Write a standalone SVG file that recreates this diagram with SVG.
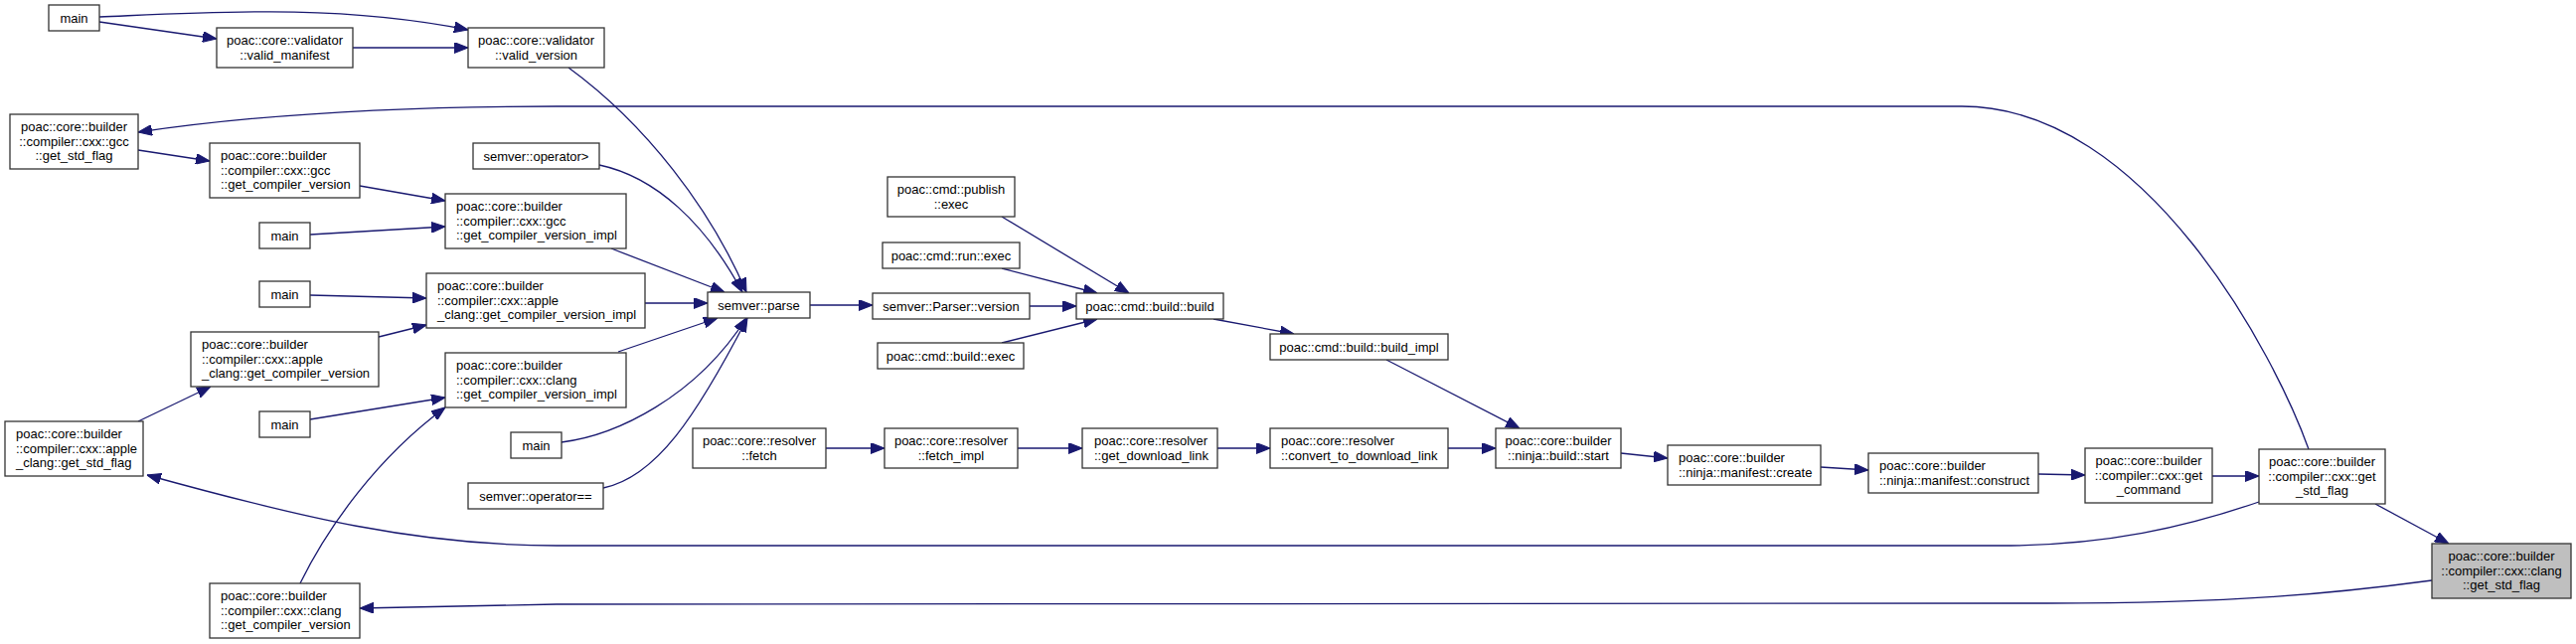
<svg xmlns="http://www.w3.org/2000/svg" width="2592" height="648" viewBox="0 0 2592 648">
<style>
.n rect{fill:#ffffff;stroke:#333333;stroke-width:1.3}
.n.hl rect{fill:#bfbfbf}
.n text{font-family:"Liberation Sans",Arial,sans-serif;font-size:13px;fill:#000000}
.c{text-anchor:middle}
.l{text-anchor:start}
#edges path{fill:none;stroke:#191970;stroke-width:1.3;marker-end:url(#ah)}
</style>
<defs>
<marker id="ah" markerUnits="userSpaceOnUse" markerWidth="14" markerHeight="11" viewBox="0 0 13 10" refX="13" refY="5" orient="auto">
<path d="M0,0 L13,5 L0,10 z" fill="#191970" stroke="#191970" stroke-width="1"/>
</marker>
</defs>
<rect width="2592" height="648" fill="#ffffff"/>
<g id="edges">
<path d="M100,17 C220,12 340,4 471,30"/>
<path d="M100,22 L218,39"/>
<path d="M355,48 L471,48"/>
<path d="M572,68 C650,125 715,210 751,294"/>
<path d="M603,166 C660,178 710,225 747,294"/>
<path d="M615,250 L729,294"/>
<path d="M649,305 L712,305"/>
<path d="M622,354 L722,320"/>
<path d="M565,445 C620,438 700,400 751,320"/>
<path d="M607,491 C660,480 700,420 752,320"/>
<path d="M381,339 L429,327"/>
<path d="M312,297 L429,300"/>
<path d="M139,424 L212,389"/>
<path d="M312,422 L448,400"/>
<path d="M302,587 C330,530 380,460 448,410"/>
<path d="M139,151 L211,162"/>
<path d="M362,187 L448,202"/>
<path d="M312,236 L448,228"/>
<path d="M815,307 L878,307"/>
<path d="M1036,308 L1083,308"/>
<path d="M1008,218 L1136,295"/>
<path d="M1008,270 L1104,295"/>
<path d="M1008,345 L1104,321"/>
<path d="M1221,321 L1302,336"/>
<path d="M1395,362 L1529,431"/>
<path d="M831,451 L890,451"/>
<path d="M1024,451 L1089,451"/>
<path d="M1225,451 L1278,451"/>
<path d="M1457,451 L1505,451"/>
<path d="M1631,456 L1678,461"/>
<path d="M1832,470 L1880,473"/>
<path d="M2051,477 L2098,478"/>
<path d="M2226,479 L2273,479"/>
<path d="M2390,507 L2464,547"/>
<path d="M2323,452 C2290,360 2160,107 1974,107 L560,107 C400,107 260,115 139,133"/>
<path d="M2273,505 C2200,530 2120,549 2013,549 L560,549 C420,549 300,520 148,478"/>
<path d="M2447,584 C2350,597 2250,607 2060,607 L560,608 C480,609 420,611 362,612"/>
</g>
<g id="n_main1" class="n"><rect x="49" y="5" width="51" height="26"/><text class="c" x="74.5" y="22.5">main</text></g>
<g id="n_valid_manifest" class="n"><rect x="218" y="28" width="137" height="40"/><text class="c" x="286.5" y="45">poac::core::validator</text><text class="c" x="286.5" y="59.7">::valid_manifest</text></g>
<g id="n_valid_version" class="n"><rect x="471" y="28" width="137" height="40"/><text class="c" x="539.5" y="45">poac::core::validator</text><text class="c" x="539.5" y="59.7">::valid_version</text></g>
<g id="n_gcc_std_flag" class="n"><rect x="10" y="115" width="129" height="55"/><text class="c" x="74.5" y="132">poac::core::builder</text><text class="c" x="74.5" y="146.7">::compiler::cxx::gcc</text><text class="c" x="74.5" y="161.3">::get_std_flag</text></g>
<g id="n_gcc_gcv" class="n"><rect x="211" y="144" width="151" height="55"/><text class="l" x="222" y="161">poac::core::builder</text><text class="l" x="222" y="175.7">::compiler::cxx::gcc</text><text class="l" x="222" y="190.3">::get_compiler_version</text></g>
<g id="n_gcc_impl" class="n"><rect x="448" y="195" width="182" height="55"/><text class="l" x="459" y="212">poac::core::builder</text><text class="l" x="459" y="226.7">::compiler::cxx::gcc</text><text class="l" x="459" y="241.3">::get_compiler_version_impl</text></g>
<g id="n_op_gt" class="n"><rect x="476" y="144" width="127" height="26"/><text class="c" x="539.5" y="161.5">semver::operator&gt;</text></g>
<g id="n_main_gcc" class="n"><rect x="261" y="224" width="51" height="26"/><text class="c" x="286.5" y="241.5">main</text></g>
<g id="n_main_apple" class="n"><rect x="261" y="283" width="51" height="26"/><text class="c" x="286.5" y="300.5">main</text></g>
<g id="n_apple_impl" class="n"><rect x="429" y="275" width="220" height="55"/><text class="l" x="440" y="292">poac::core::builder</text><text class="l" x="440" y="306.7">::compiler::cxx::apple</text><text class="l" x="440" y="321.3">_clang::get_compiler_version_impl</text></g>
<g id="n_apple_gcv" class="n"><rect x="192" y="334" width="189" height="55"/><text class="l" x="203" y="351">poac::core::builder</text><text class="l" x="203" y="365.7">::compiler::cxx::apple</text><text class="l" x="203" y="380.3">_clang::get_compiler_version</text></g>
<g id="n_clang_impl" class="n"><rect x="448" y="355" width="182" height="55"/><text class="l" x="459" y="372">poac::core::builder</text><text class="l" x="459" y="386.7">::compiler::cxx::clang</text><text class="l" x="459" y="401.3">::get_compiler_version_impl</text></g>
<g id="n_main_clang" class="n"><rect x="261" y="414" width="51" height="26"/><text class="c" x="286.5" y="431.5">main</text></g>
<g id="n_apple_std_flag" class="n"><rect x="5" y="424" width="139" height="55"/><text class="l" x="16" y="441">poac::core::builder</text><text class="l" x="16" y="455.7">::compiler::cxx::apple</text><text class="l" x="16" y="470.3">_clang::get_std_flag</text></g>
<g id="n_main_parse" class="n"><rect x="514" y="435" width="51" height="26"/><text class="c" x="539.5" y="452.5">main</text></g>
<g id="n_op_eq" class="n"><rect x="471" y="486" width="136" height="26"/><text class="c" x="539" y="503.5">semver::operator==</text></g>
<g id="n_clang_gcv" class="n"><rect x="211" y="587" width="151" height="55"/><text class="l" x="222" y="604">poac::core::builder</text><text class="l" x="222" y="618.7">::compiler::cxx::clang</text><text class="l" x="222" y="633.3">::get_compiler_version</text></g>
<g id="n_parse" class="n"><rect x="712" y="294" width="103" height="26"/><text class="c" x="763.5" y="311.5">semver::parse</text></g>
<g id="n_parser_version" class="n"><rect x="878" y="295" width="158" height="26"/><text class="c" x="957" y="312.5">semver::Parser::version</text></g>
<g id="n_publish_exec" class="n"><rect x="893" y="178" width="128" height="40"/><text class="c" x="957" y="195">poac::cmd::publish</text><text class="c" x="957" y="209.7">::exec</text></g>
<g id="n_run_exec" class="n"><rect x="888" y="244" width="138" height="26"/><text class="c" x="957" y="261.5">poac::cmd::run::exec</text></g>
<g id="n_build_exec" class="n"><rect x="883" y="345" width="147" height="26"/><text class="c" x="956.5" y="362.5">poac::cmd::build::exec</text></g>
<g id="n_build_build" class="n"><rect x="1083" y="295" width="148" height="26"/><text class="c" x="1157" y="312.5">poac::cmd::build::build</text></g>
<g id="n_build_impl" class="n"><rect x="1278" y="336" width="179" height="26"/><text class="c" x="1367.5" y="353.5">poac::cmd::build::build_impl</text></g>
<g id="n_fetch" class="n"><rect x="697" y="431" width="134" height="40"/><text class="c" x="764" y="448">poac::core::resolver</text><text class="c" x="764" y="462.7">::fetch</text></g>
<g id="n_fetch_impl" class="n"><rect x="890" y="431" width="134" height="40"/><text class="c" x="957" y="448">poac::core::resolver</text><text class="c" x="957" y="462.7">::fetch_impl</text></g>
<g id="n_get_download_link" class="n"><rect x="1089" y="431" width="136" height="40"/><text class="l" x="1101" y="448">poac::core::resolver</text><text class="l" x="1101" y="462.7">::get_download_link</text></g>
<g id="n_convert" class="n"><rect x="1278" y="431" width="179" height="40"/><text class="l" x="1289" y="448">poac::core::resolver</text><text class="l" x="1289" y="462.7">::convert_to_download_link</text></g>
<g id="n_start" class="n"><rect x="1505" y="431" width="126" height="40"/><text class="c" x="1568" y="448">poac::core::builder</text><text class="c" x="1568" y="462.7">::ninja::build::start</text></g>
<g id="n_create" class="n"><rect x="1678" y="448" width="154" height="40"/><text class="l" x="1689" y="465">poac::core::builder</text><text class="l" x="1689" y="479.7">::ninja::manifest::create</text></g>
<g id="n_construct" class="n"><rect x="1880" y="456" width="171" height="40"/><text class="l" x="1891" y="473">poac::core::builder</text><text class="l" x="1891" y="487.7">::ninja::manifest::construct</text></g>
<g id="n_get_command" class="n"><rect x="2098" y="451" width="128" height="55"/><text class="c" x="2162" y="468">poac::core::builder</text><text class="c" x="2162" y="482.7">::compiler::cxx::get</text><text class="c" x="2162" y="497.3">_command</text></g>
<g id="n_cxx_std_flag" class="n"><rect x="2273" y="452" width="127" height="55"/><text class="c" x="2336.5" y="469">poac::core::builder</text><text class="c" x="2336.5" y="483.7">::compiler::cxx::get</text><text class="c" x="2336.5" y="498.3">_std_flag</text></g>
<g id="n_clang_std_flag" class="n hl"><rect x="2447" y="547" width="140" height="55"/><text class="c" x="2517" y="564">poac::core::builder</text><text class="c" x="2517" y="578.7">::compiler::cxx::clang</text><text class="c" x="2517" y="593.3">::get_std_flag</text></g>
</svg>
